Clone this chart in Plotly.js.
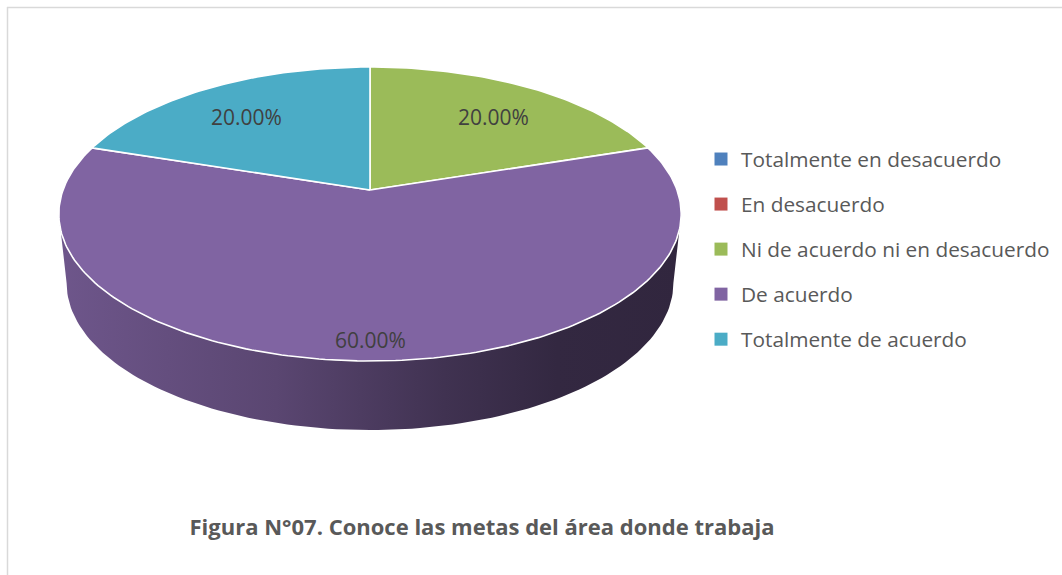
<!DOCTYPE html>
<html><head><meta charset="utf-8">
<script src="https://cdn.plot.ly/plotly-3.0.1.min.js"></script>
<style>html,body{margin:0;padding:0;background:#fff}#chart{width:1062px;height:575px}</style>
</head><body><div id="chart"></div>
<script>
// ---- data ----
const categories = ["Totalmente en desacuerdo","En desacuerdo","Ni de acuerdo ni en desacuerdo","De acuerdo","Totalmente de acuerdo"];
const values = [0, 0, 20, 60, 20];
const colors = ["#4F81BD","#C0504D","#9BBB59","#8064A2","#4BACC6"];
const chartTitle = "Figura N°07. Conoce las metas del área donde trabaja";

// ---- geometry / style (pixel-like axis space) ----
const CX = 370, CY = 190, RB = 307, RA = 143.1, K = 0.1633, DEPTH = 69, BOTTOM_SCALE = 0.975;
const LABEL_R = [0.7, 0.7, 0.69, 0.895, 0.69];
const LABEL_XSTRETCH = 1.08;
const FONT = "Open Sans, Noto Sans, DejaVu Sans, sans-serif";

function proj(th, r, sx) {
  const u = r * Math.cos(th) * (sx || 1), v = r * Math.sin(th), w = 1 + K * v;
  return [CX + RB * u / w, CY - RA * v / w];
}
function projBottom(th) {
  const u = Math.cos(th), v = Math.sin(th), w = 1 + K * v;
  return [CX + BOTTOM_SCALE * RB * u / w, CY - RA * v / w + DEPTH];
}
function shade(hex, f) {
  const n = parseInt(hex.slice(1), 16);
  const r = Math.round(((n >> 16) & 255) * f), g = Math.round(((n >> 8) & 255) * f), b = Math.round((n & 255) * f);
  return `rgb(${r},${g},${b})`;
}

const total = values.reduce((a, b) => a + b, 0);
const traces = [];
const annotations = [];
const frontLo = -Math.PI + Math.asin(K), frontHi = -Math.asin(K);
const xMin = CX - RB * 1.0137, xMax = CX + RB * 1.0137;

let cum = 0;
const sliceTraces = [];
values.forEach((val, i) => {
  const a0 = Math.PI / 2 - 2 * Math.PI * cum / total;
  const a1 = Math.PI / 2 - 2 * Math.PI * (cum + val) / total;
  cum += val;
  if (val <= 0) return;
  // side wall (front visible part)
  const lo = Math.max(a1, frontLo), hi = Math.min(a0, frontHi);
  if (hi > lo) {
    const xs = [], ys = [];
    const N = 120;
    for (let s = 0; s <= N; s++) { const t = lo + (hi - lo) * s / N; const p = proj(t, 1); xs.push(p[0]); ys.push(p[1]); }
    for (let s = N; s >= 0; s--) { const t = lo + (hi - lo) * s / N; const p = projBottom(t); xs.push(p[0]); ys.push(p[1]); }
    traces.push({
      type: "scatter", x: xs, y: ys, mode: "lines", fill: "toself",
      line: { width: 0, color: "rgba(0,0,0,0)" },
      fillgradient: { type: "horizontal", start: xMin, stop: xMax,
        colorscale: [[0, shade(colors[i], 0.86)], [0.35, shade(colors[i], 0.70)], [0.62, shade(colors[i], 0.50)], [0.8, shade(colors[i], 0.40)], [1, shade(colors[i], 0.38)]] },
      legendgroup: "g" + i, showlegend: false, hoverinfo: "skip"
    });
  }
  // top face
  const xs = [CX], ys = [CY];
  const M = Math.max(8, Math.round(Math.abs(a0 - a1) / (2 * Math.PI) * 360));
  for (let s = 0; s <= M; s++) { const t = a0 + (a1 - a0) * s / M; const p = proj(t, 1); xs.push(p[0]); ys.push(p[1]); }
  xs.push(CX); ys.push(CY);
  sliceTraces.push({
    type: "scatter", x: xs, y: ys, mode: "lines", fill: "toself", fillcolor: colors[i],
    line: { color: "#ffffff", width: 1.6 },
    name: categories[i], legendgroup: "g" + i, showlegend: false, hoverinfo: "name"
  });
  const mid = (a0 + a1) / 2;
  const lp = proj(mid, LABEL_R[i], LABEL_XSTRETCH);
  annotations.push({ x: lp[0], y: lp[1], xref: "x", yref: "y", showarrow: false,
    text: (val / total * 100).toFixed(2) + "%", font: { family: FONT, size: 21, color: "#404040" } });
});
traces.push(...sliceTraces);

// legend entries
categories.forEach((c, i) => {
  traces.push({ type: "scatter", x: [null], y: [null], mode: "markers", name: c,
    marker: { symbol: "square", size: 13, color: colors[i] }, legendgroup: "g" + i, showlegend: true, hoverinfo: "skip" });
});

const layout = {
  width: 1062, height: 575,
  margin: { l: 0, r: 0, t: 0, b: 0 },
  paper_bgcolor: "#ffffff", plot_bgcolor: "#ffffff",
  xaxis: { range: [0, 1062], visible: false, fixedrange: true },
  yaxis: { range: [575, 0], visible: false, fixedrange: true },
  showlegend: true,
  legend: { x: 701 / 1062, y: 1 - 139 / 575, xanchor: "left", yanchor: "top",
    font: { family: FONT, size: 20.8, color: "#595959" }, tracegroupgap: 15, bgcolor: "rgba(0,0,0,0)" },
  title: { text: "<b>" + chartTitle + "</b>", x: 482 / 1062, y: 1 - 527 / 575, xanchor: "center", yanchor: "middle",
    xref: "paper", yref: "container", font: { family: FONT, size: 22, color: "#595959" } },
  annotations: annotations,
  shapes: [
    { type: "line", xref: "paper", yref: "paper", x0: 7 / 1062, x1: 1, y0: 1 - 7.5 / 575, y1: 1 - 7.5 / 575, line: { color: "#d9d9d9", width: 1.5 } },
    { type: "line", xref: "paper", yref: "paper", x0: 7.5 / 1062, x1: 7.5 / 1062, y0: 0, y1: 1 - 7 / 575, line: { color: "#d9d9d9", width: 1.5 } }
  ]
};

Plotly.newPlot("chart", traces, layout, { displayModeBar: false, staticPlot: true });
</script>
</body></html>
